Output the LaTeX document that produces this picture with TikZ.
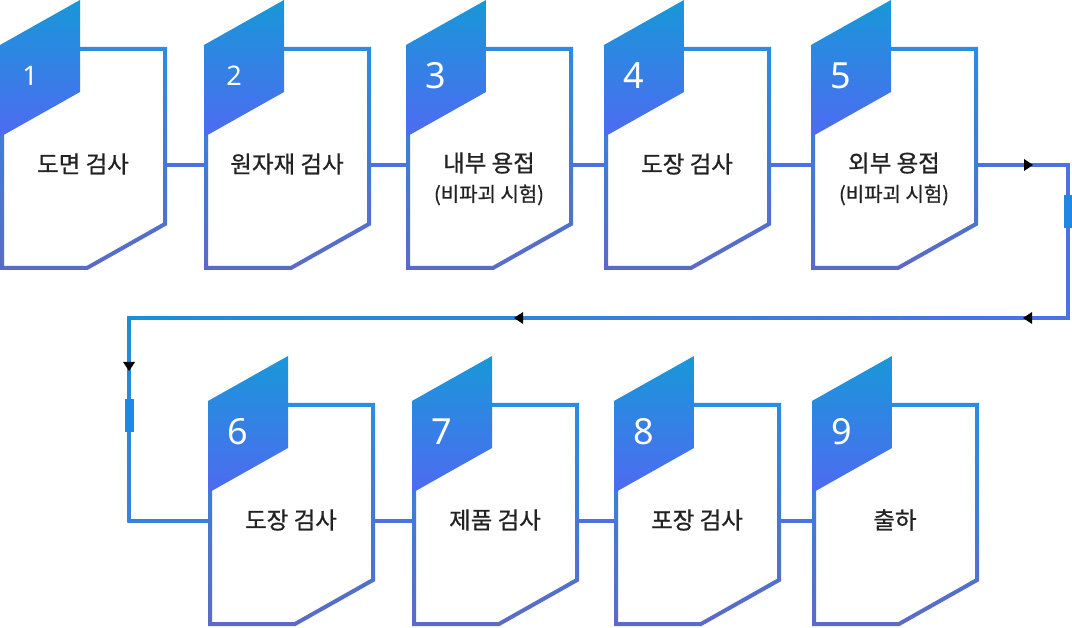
\documentclass[tikz,border=0pt]{standalone}
\usepackage{fontspec}
\setmainfont{Noto Sans CJK KR}[FakeBold=0.8]
\newfontfamily\numfont{Noto Sans}
\usetikzlibrary{calc,decorations.markings}
\definecolor{tabTop}{HTML}{1898D8}
\definecolor{tabMid}{HTML}{2F84E8}
\definecolor{tabBot}{HTML}{4F6AF2}
\definecolor{lineTop}{HTML}{2A8CE2}
\definecolor{lineMid}{HTML}{4C72EA}
\definecolor{lineBot}{HTML}{5B6AC6}
\definecolor{connC}{HTML}{4E70E4}
\definecolor{loopL}{HTML}{1A8FD9}
\definecolor{loopB}{HTML}{3A80E2}
\definecolor{markC}{HTML}{1E88E2}
\definecolor{txt}{HTML}{222222}
\newcommand\smallnum{\fontsize{27pt}{27pt}\selectfont}
\tikzset{
  cardring/.style={top color=lineTop, middle color=lineMid, bottom color=lineBot, even odd rule},
  tabfill/.style={top color=tabTop, middle color=tabMid, bottom color=tabBot},
  numtext/.style={anchor=center, inner sep=0pt, text=white, font=\numfont\fontsize{36pt}{36pt}\selectfont},
  maintext/.style={anchor=center, inner sep=0pt, text=txt, font=\fontsize{23.5pt}{23.5pt}\selectfont},
  subtext/.style={anchor=center, inner sep=0pt, text=txt, font=\fontsize{20pt}{20pt}\selectfont},
  conn/.style={draw=connC, line width=3.5pt},
  markerbox/.style={fill=markC, minimum width=9pt, minimum height=33pt, inner sep=0pt},
  tipat/.style={postaction={decorate, decoration={markings, mark=at position #1 with {\fill[black] (0pt,0pt) -- (-9pt,6pt) -- (-9pt,-6pt) -- cycle;}}}},
}
% #1 name, #2 left, #3 top, #4 number, #5 title, #6 subtitle
\newcommand\stepcard[6]{%
  \begin{scope}[shift={(#2,#3)}]
    \shade[cardring] (0,47) -- (167,47) -- (167,225.2) -- (87.5,270) -- (0,270) -- cycle
                     (4,51) -- (163,51) -- (163,222.8) -- (86.5,266) -- (4,266) -- cycle;
    \shade[tabfill] (0,45) -- (80,0) -- (80,92) -- (0,137) -- cycle;
    \node[numtext] (#1n) at (30,76) {#4};
    \if\relax\detokenize{#6}\relax
      \node[maintext] (#1) at (83,164) {#5};
    \else
      \node[maintext] (#1) at (83,163) {#5};
      \node[subtext] (#1s) at (83,195) {#6};
    \fi
    \coordinate (#1l) at (0,165);
    \coordinate (#1r) at (167,165);
  \end{scope}}
\begin{document}
\begin{tikzpicture}[x=1pt,y=-1pt]
\useasboundingbox (0,0) rectangle (1072,628);
\fill[white] (0,0) rectangle (1072,628);
% cards
\stepcard{c1}{0}{0}{\smallnum 1}{도면 검사}{}
\stepcard{c2}{204}{0}{\smallnum 2}{원자재 검사}{}
\stepcard{c3}{406}{0}{3}{내부 용접}{(비파괴 시험)}
\stepcard{c4}{604}{0}{4}{도장 검사}{}
\stepcard{c5}{811}{0}{5}{외부 용접}{(비파괴 시험)}
\stepcard{c6}{208}{356}{6}{도장 검사}{}
\stepcard{c7}{412}{356}{7}{제품 검사}{}
\stepcard{c8}{614}{356}{8}{포장 검사}{}
\stepcard{c9}{812}{356}{9}{출하}{}
% row connectors
\draw[conn] (c1r) -- (c2l);
\draw[conn] (c2r) -- (c3l);
\draw[conn] (c3r) -- (c4l);
\draw[conn] (c4r) -- (c5l);
\draw[conn] (c6r) -- (c7l);
\draw[conn] (c7r) -- (c8l);
\draw[conn] (c8r) -- (c9l);
% return loop
\coordinate (k1) at (1068,165);
\coordinate (k2) at (1068,318);
\coordinate (k3) at (129,318);
\coordinate (k4) at (129,521);
\draw[conn, tipat=55pt] (c5r) -- (k1) -- (k2);
\shade[left color=loopL, right color=connC] ($(k3)+(-1.75,-1.75)$) rectangle ($(k2)+(1.75,1.75)$);
\path[tipat=45pt, tipat=554pt] (k2) -- (k3);
\shade[top color=loopL, bottom color=loopB] ($(k3)+(-1.75,-1.75)$) rectangle ($(k4)+(1.75,1.75)$);
\path[tipat=53pt] (k3) -- (k4);
\draw[conn, draw=loopB] (k4) -- (c6l);
\node[markerbox] (m1) at ($(k1)!0.304!(k2)$) {};
\node[markerbox] (m2) at ($(k3)!0.48!(k4)$) {};
\end{tikzpicture}
\end{document}
